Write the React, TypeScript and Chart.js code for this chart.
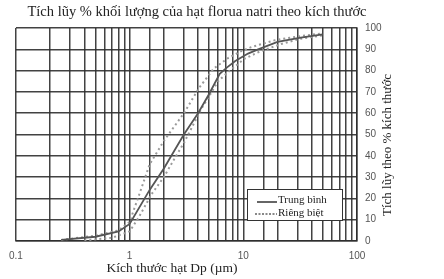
import React, { useEffect, useRef } from "react";
import { Chart, registerables } from "chart.js";

Chart.register(...registerables);

const titleText = "Tích lũy % khối lượng của hạt florua natri theo kích thước";
const xTitle = "Kích thước hạt Dp (µm)";
const yTitle = "Tích lũy theo % kích thước";
const legendLabels = ["Trung bình", "Riêng biệt"];

const majorTicks = [0.1, 1, 10, 100];

const solidX = [0.25, 0.5, 0.8, 1.0, 1.5, 2.0, 3.0, 4.0, 5.0, 6.2, 7.2, 8.5, 11, 13.5, 20, 32, 50];
const solidY = [0.5, 2, 4.5, 8, 24, 34, 50, 60, 69, 78.5, 81.5, 84.5, 88, 90, 93.5, 95.5, 97];

const leftX = [0.25, 0.5, 0.8, 1.0, 1.2, 1.5, 2.0, 3.0, 4.1, 5.5, 7.4, 9.5, 11.7, 19, 30, 50];
const leftY = [0.5, 2.5, 5, 9, 21, 36, 47, 60, 72, 81, 86, 89, 91, 94.3, 96, 97.5];

const rightX = [0.4, 0.7, 1.0, 1.2, 1.56, 2.0, 2.5, 3.0, 4.27, 5.0, 6.0, 7.4, 10.2, 14, 21.6, 32, 50];
const rightY = [0.3, 1.5, 4.5, 11, 22, 30, 39, 46, 62, 68, 75, 79.5, 85.5, 89, 92.5, 95, 96.5];

const pts = (xs: number[], ys: number[]) => xs.map((x, i) => ({ x, y: ys[i] }));

const GRID = "rgba(45,45,45,0.9)";

export default function App() {
  const ref = useRef<HTMLCanvasElement | null>(null);
  useEffect(() => {
    if (!ref.current) return;
    const textPlugin = {
      id: "texts",
      afterDraw(chart: any) {
        const ctx = chart.ctx as CanvasRenderingContext2D;
        ctx.save();
        ctx.fillStyle = "#222";
        ctx.textAlign = "center";
        ctx.textBaseline = "middle";
        ctx.font = '14.5px "Liberation Serif"';
        ctx.fillText(titleText, 197, 12);
        ctx.font = '13.5px "Liberation Serif"';
        ctx.fillText(xTitle, 172, 268);
        ctx.save();
        ctx.translate(388, 145);
        ctx.rotate(-Math.PI / 2);
        ctx.font = '13px "Liberation Serif"';
        ctx.fillText(yTitle, 0, 0);
        ctx.restore();
        // legend
        const lx = 247, ly = 189, lw = 95, lh = 31;
        ctx.fillStyle = "#fff";
        ctx.fillRect(lx, ly, lw, lh);
        ctx.strokeStyle = "#333";
        ctx.lineWidth = 1;
        ctx.strokeRect(lx + 0.5, ly + 0.5, lw, lh);
        ctx.strokeStyle = "#666";
        ctx.lineWidth = 2;
        ctx.beginPath();
        ctx.moveTo(257, 202);
        ctx.lineTo(277, 202);
        ctx.stroke();
        ctx.strokeStyle = "#888";
        ctx.setLineDash([2, 1.5]);
        ctx.beginPath();
        ctx.moveTo(255, 214);
        ctx.lineTo(277, 214);
        ctx.stroke();
        ctx.setLineDash([]);
        ctx.fillStyle = "#222";
        ctx.textAlign = "left";
        ctx.font = '11px "Liberation Serif"';
        ctx.fillText(legendLabels[0], 278, 200);
        ctx.fillText(legendLabels[1], 278, 213);
        ctx.restore();
      },
    };
    const chart = new Chart(ref.current, {
      type: "line",
      data: {
        datasets: [
          {
            label: legendLabels[0],
            data: pts(solidX, solidY),
            borderColor: "#555",
            borderWidth: 1.8,
            pointRadius: 0,
            tension: 0,
          },
          {
            label: legendLabels[1],
            data: pts(leftX, leftY),
            borderColor: "#9a9a9a",
            borderWidth: 2,
            borderDash: [2, 3],
            pointRadius: 0,
            tension: 0,
          },
          {
            label: legendLabels[1] + " 2",
            data: pts(rightX, rightY),
            borderColor: "#9a9a9a",
            borderWidth: 2,
            borderDash: [2, 3],
            pointRadius: 0,
            tension: 0,
          },
        ],
      },
      options: {
        animation: false,
        responsive: false,
        maintainAspectRatio: false,
        layout: { padding: { left: 14, top: 28, right: 0, bottom: 0 } },
        plugins: { legend: { display: false }, title: { display: false }, tooltip: { enabled: false } },
        scales: {
          x: {
            type: "logarithmic",
            position: "bottom",
            min: 0.1,
            max: 100,
            afterFit: (s: any) => {
              s.height = 38;
            },
            grid: { color: GRID, lineWidth: 1.5, drawTicks: false },
            border: { color: GRID, width: 1.5 },
            ticks: {
              autoSkip: false,
              maxRotation: 0,
              padding: 9,
              color: "#555",
              font: { family: '"Liberation Sans"', size: 10 },
              callback: (v: any) => {
                const n = Number(v);
                const m = majorTicks.find((t) => Math.abs(t - n) < 1e-9);
                return m !== undefined ? String(m) : "";
              },
            },
          },
          y: {
            position: "right",
            min: 0,
            max: 100,
            afterFit: (s: any) => {
              s.width = 87;
            },
            grid: { color: GRID, lineWidth: 1.5, drawTicks: false },
            border: { color: GRID, width: 1.5 },
            ticks: {
              stepSize: 10,
              padding: 8,
              color: "#555",
              font: { family: '"Liberation Sans"', size: 10 },
            },
          },
        },
      },
      plugins: [textPlugin],
    } as any);
    return () => chart.destroy();
  }, []);
  return (
    <div style={{ position: "fixed", left: 0, top: 0, width: 444, height: 279, background: "#fff" }}>
      <canvas ref={ref} width={444} height={279} style={{ width: 444, height: 279 }} />
    </div>
  );
}
